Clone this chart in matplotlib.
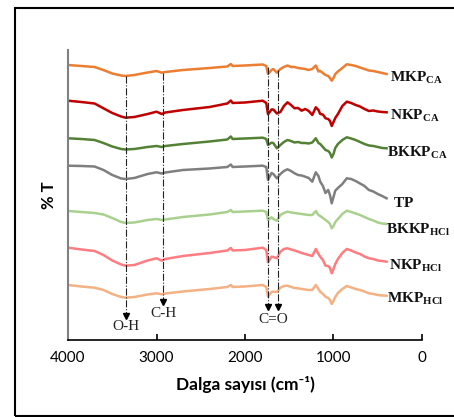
import matplotlib
matplotlib.use("Agg")
import matplotlib.pyplot as plt
from matplotlib.patches import Rectangle

plt.rcParams['mathtext.fontset'] = 'custom'
plt.rcParams['mathtext.rm'] = 'Liberation Serif'
plt.rcParams['mathtext.bf'] = 'Liberation Serif:bold'

# wavenumber grid (cm-1)
wn = [4000, 3850, 3700, 3600, 3500, 3400, 3350, 3250, 3100, 3000,
      2940, 2900, 2700, 2400, 2200, 2160, 2140, 2000, 1800, 1760,
      1740, 1700, 1680, 1640, 1600, 1560, 1520, 1480, 1440, 1400,
      1360, 1320, 1280, 1240, 1200, 1170, 1150, 1120, 1090, 1060,
      1040, 1020, 1000, 980, 950, 900, 850, 800, 750, 700,
      650, 600, 550, 500, 450, 400]

# %T (stacked, arbitrary units)
mkp_ca = [275, 274, 273, 270, 266.5, 264.5, 264, 265, 267.5, 269,
          267.3, 268, 270, 272, 273.5, 276, 274, 274.5, 275.5, 274,
          266, 270, 271, 267.3, 271, 273, 274.5, 273, 273, 272,
          271.5, 271, 270, 271, 274.5, 268.5, 269, 267, 265, 264,
          262, 259.3, 262, 266, 268.5, 272, 275.7, 275, 274, 272.5,
          271, 269.5, 269, 268, 267, 266]
nkp_ca = [239.3, 238, 236.5, 231.7, 227, 223.5, 222.3, 223, 226, 228.3,
          226, 227.5, 230, 233, 236.5, 239.5, 237, 237.5, 239.3, 237,
          225.7, 230.5, 230.5, 226.5, 228, 234, 237.7, 235, 231.7, 232,
          229.3, 231, 229, 225, 232.7, 230, 226, 225.5, 221.7, 221,
          219, 214, 218, 222, 226, 234, 238.3, 237, 235, 233.5,
          231, 229, 229.5, 228.5, 228, 227.7]
bkkp_ca = [201.7, 201, 200, 197, 193.5, 191, 190.5, 191, 193, 194,
           193, 194, 196, 198.5, 200.5, 203.5, 201, 201.5, 202.3, 201,
           195, 197.3, 197, 191.7, 195, 198, 200, 199, 197.5, 198,
           197, 197, 196.5, 197.5, 201.7, 197, 196, 193, 190, 189,
           187, 182.5, 186, 192, 196, 200, 202.7, 201.5, 200, 198,
           196, 194.5, 194, 193, 192, 191.7]
tp = [174.3, 174, 173.5, 170, 165, 161.5, 161, 162, 166, 167.7,
      166.5, 167.5, 170, 171.5, 173, 175.5, 173, 173.5, 174.3, 173,
      160, 167, 166, 161.7, 166, 169, 170.7, 169, 166.7, 165,
      164.5, 163.3, 162, 158.3, 167.7, 164, 158.3, 154, 147, 150,
      145, 136.7, 143, 149.3, 152, 156, 161.7, 161, 159, 156.5,
      154, 150, 148.5, 146, 144, 141.7]
bkkp_hcl = [129, 128, 127, 125.5, 122, 118, 117, 117.5, 120, 121,
            120, 120.5, 123, 125.5, 128, 130, 128, 128.5, 129.3, 128,
            120, 122.7, 121, 119.3, 125, 127, 128.3, 127.5, 127, 126.5,
            126, 125.5, 125, 125, 129, 125, 124, 122, 120, 118,
            116, 111.7, 114, 118, 121, 126, 129.3, 128, 126.5, 125,
            123, 121, 119.5, 117.5, 116.5, 116]
nkp_hcl = [92.3, 90.5, 89, 85, 79.5, 75.5, 74.3, 75, 79.5, 81.7,
           79.3, 81, 84, 87, 89.5, 92, 89.5, 90, 92.3, 90,
           77.7, 83.3, 83, 81.7, 88.3, 91, 91.7, 90.5, 89.5, 88.3,
           87, 86, 85, 84, 91, 86, 83.3, 80, 74.3, 74,
           72, 66.7, 71, 76, 81, 87, 91, 89.5, 87.5, 86,
           83.5, 81.7, 81, 79.5, 79, 78.3]
mkp_hcl = [55, 53.5, 52.3, 50, 46, 43, 42.3, 43, 45.5, 46.7,
           45.7, 46.5, 48.5, 51, 53, 55, 53, 53.5, 55, 53,
           43.3, 48, 48.3, 48, 52.3, 54, 54.3, 53, 52, 51.7,
           51, 50.5, 50, 50, 55, 51, 48.3, 46, 43.3, 42,
           40, 36, 39, 43, 47, 51, 54, 52.5, 51, 50,
           48.5, 46.7, 46, 45, 44.5, 44.3]

series = [mkp_ca, nkp_ca, bkkp_ca, tp, bkkp_hcl, nkp_hcl, mkp_hcl]
labels = [r'$\mathbf{MKP}_{\mathbf{CA}}$', r'$\mathbf{NKP}_{\mathbf{CA}}$',
          r'$\mathbf{BKKP}_{\mathbf{CA}}$', r'$\mathbf{TP}$',
          r'$\mathbf{BKKP}_{\mathbf{HCl}}$', r'$\mathbf{NKP}_{\mathbf{HCl}}$',
          r'$\mathbf{MKP}_{\mathbf{HCl}}$']
colors = ['#ED7D31', '#C00000', '#548235', '#7F7F7F', '#A9D18E', '#FF7C80', '#F4B183']
label_x = [362, 362, 392, 331, 403, 370, 392]
label_y = [259, 220.7, 183.3, 132.7, 106.7, 70.7, 37.3]

# band markers: wavenumber, line top, arrow tip, text, text height
bands = [3350, 2925, 1745, 1625]
band_top = [264, 267, 273, 270]
band_tip = [21, 35, 30, 30]
band_text = ['O-H', 'C-H', 'C=O']
band_text_x = [3350, 2925, 1685]
band_text_y = [13, 26, 20]

fig = plt.figure(figsize=(4.54, 4.17), dpi=100)
ax = fig.add_axes([0.1498, 0.1847, 0.7797, 0.6954])

for y, c in zip(series, colors):
    ax.plot(wn, y, color=c, lw=1.8)

for x, lab, ly in zip(label_x, labels, label_y):
    ax.text(x, ly, lab, fontsize=11, ha='left', va='baseline', color='#111111')

for b, t0, t1 in zip(bands, band_top, band_tip):
    ax.plot([b, b], [t0, t1 + 4], color='#222222', lw=0.8, ls='-.')
    ax.plot(b, t1 + 3, marker='v', color='black', ms=5)

for t, tx, ty in zip(band_text, band_text_x, band_text_y):
    ax.text(tx, ty, t, fontsize=11, ha='center', va='center',
            family='Liberation Serif', color='#222222')

ax.set_xlim(4000, 0)
ax.set_ylim(0, 290)
ax.set_xticks([4000, 3000, 2000, 1000, 0])
ax.set_yticks([])
ax.tick_params(axis='x', direction='in', length=4, width=1.2, pad=8, labelsize=11)
for lab in ax.get_xticklabels():
    lab.set_family(['Lato', 'DejaVu Sans'])
ax.spines['top'].set_visible(False)
ax.spines['right'].set_visible(False)
ax.spines['left'].set_color('#808080')
ax.spines['left'].set_linewidth(1.5)
ax.spines['bottom'].set_linewidth(1.2)

ax.set_xlabel('Dalga sayısı (cm⁻¹)', fontsize=12.5, fontweight='bold',
              family=['Lato', 'DejaVu Sans'], labelpad=8)
ax.set_ylabel('% T', fontsize=12, fontweight='bold',
              family=['Lato', 'DejaVu Sans'], labelpad=8)

fig.patches.append(Rectangle((0.033, 0.003), 1.0, 0.978, transform=fig.transFigure,
                             fill=False, edgecolor='black', lw=1.5))

fig.savefig('out.png', dpi=100)
